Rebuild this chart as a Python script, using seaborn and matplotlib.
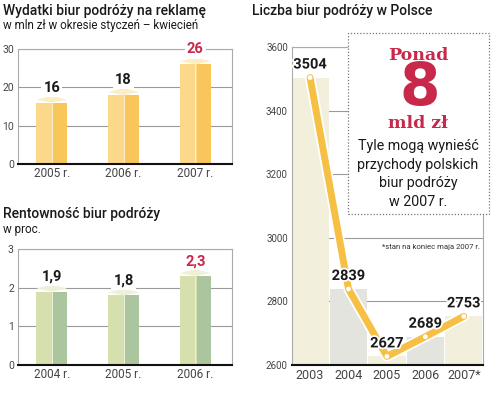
import numpy as np
import pandas as pd
import seaborn as sns
import matplotlib
matplotlib.use("Agg")
import matplotlib.pyplot as plt
import matplotlib.patheffects as pe
from matplotlib.patches import Rectangle

# ---- data ----
ad_years = ["2005 r.", "2006 r.", "2007 r."]
ad_values = [16, 18, 26]
ad_labels = ["16", "18", "26"]

prof_years = ["2004 r.", "2005 r.", "2006 r."]
prof_values = [1.9, 1.8, 2.3]
prof_labels = ["1,9", "1,8", "2,3"]

agency_years = ["2003", "2004", "2005", "2006", "2007*"]
agency_counts = [3504, 2839, 2627, 2689, 2753]

sns.set_theme(style="white")
plt.rcParams['font.family'] = ['Roboto', 'DejaVu Sans']
plt.rcParams['mathtext.fontset'] = 'dejavusans'

RED = "#c8284a"
GRID = "#9a9a9a"
TICK = "#444444"

fig = plt.figure(figsize=(5.0, 3.98), dpi=100)
W, H = 500, 398

def axes_px(l, t, r, b):
    return fig.add_axes([l / W, 1 - b / H, (r - l) / W, (b - t) / H])


def bar_panel(ax, cats, vals, labels, ymax, ticks, light, dark, top, ytop_px):
    df = pd.DataFrame({"cat": cats, "val": vals})
    width = 0.43
    sns.barplot(data=df, x="cat", y="val", ax=ax, color=light, width=width,
                saturation=1, linewidth=0, zorder=3)
    ax.set_xlim(-0.47, 2.51)
    ax.set_ylim(0, ymax)
    upp = ymax / ytop_px
    for i, v in enumerate(vals):
        ax.add_patch(Rectangle((i + width * 0.04, 0), width * 0.46, v,
                               facecolor=dark, edgecolor="none", zorder=4))
        xs = [i - width / 2, i, i + width / 2, i]
        ys = [v + 3 * upp, v, v + 3 * upp, v + 7 * upp]
        ax.fill(xs, ys, color=top, zorder=5, lw=0)
        ax.plot([i, i], [0, v], color="white", lw=0.5, alpha=0.8, zorder=6)
        col = RED if i == len(vals) - 1 else "#1a1a1a"
        ax.annotate(labels[i], (i, v), xytext=(0, 15), textcoords="offset pixels",
                    ha="center", va="center", fontsize=10.5, fontweight="bold",
                    color=col, zorder=7,
                    bbox=dict(boxstyle="square,pad=0.15", fc="white", ec="none"))
    ax.set_yticks(ticks)
    ax.grid(axis="y", color=GRID, lw=0.8, zorder=0)
    ax.set_xlabel("")
    ax.set_ylabel("")
    for s in ["left", "right", "top"]:
        ax.spines[s].set_visible(True)
        ax.spines[s].set_color("#aaaaaa")
        ax.spines[s].set_linewidth(0.8)
    ax.spines["bottom"].set_color("#111111")
    ax.spines["bottom"].set_linewidth(1.5)
    ax.spines["bottom"].set_zorder(8)
    ax.tick_params(axis="y", length=0, pad=3, labelsize=7.5, labelcolor=TICK)
    ax.tick_params(axis="x", length=0, pad=2, labelsize=8.5, labelcolor=TICK)
    ax.set_facecolor("white")


# ---- top-left panel ----
ax1 = axes_px(18, 49, 232, 164)
bar_panel(ax1, ad_years, ad_values, ad_labels, 30, [0, 10, 20, 30],
          "#fcd98a", "#f8c65a", "#fdeec0", 115)
fig.text(3 / W, 1 - 11 / H, "Wydatki biur podróży na reklamę", fontsize=10,
         fontweight="medium", color="#1a1a1a", va="center", ha="left")
fig.text(3 / W, 1 - 26 / H, "w mln zł w okresie styczeń – kwiecień", fontsize=8.4,
         color="#1a1a1a", va="center", ha="left")

# ---- bottom-left panel ----
ax2 = axes_px(18, 249, 232, 365)
bar_panel(ax2, prof_years, prof_values, prof_labels, 3, [0, 1, 2, 3],
          "#d6dfae", "#abc69e", "#eef1d8", 116)
fig.text(3 / W, 1 - 214 / H, "Rentowność biur podróży", fontsize=10,
         fontweight="medium", color="#1a1a1a", va="center", ha="left")
fig.text(3 / W, 1 - 229 / H, "w proc.", fontsize=8.4,
         color="#1a1a1a", va="center", ha="left")

# ---- right panel ----
ax3 = axes_px(292, 47, 483, 365)
df3 = pd.DataFrame({"year": agency_years, "count": agency_counts})
col_colors = ["#f2f0dc", "#e4e4df", "#f2f0dc", "#e4e4df", "#f2f0dc"]
sns.barplot(data=df3, x="year", y="count", hue="year", palette=col_colors,
            legend=False, ax=ax3, width=0.97, saturation=1, linewidth=0,
            zorder=1)
ax3.set_ylim(2600, 3600)
ax3.set_xlim(-0.47, 4.5)
ax3.set_yticks([2600, 2800, 3000, 3200, 3400, 3600])
ax3.grid(axis="y", color=GRID, lw=0.8, zorder=0)
ax3.set_axisbelow(True)
sns.lineplot(data=df3, x="year", y="count", ax=ax3, color="#f6c044", lw=5,
             sort=False, zorder=4,
             path_effects=[pe.Stroke(linewidth=7.5, foreground="white"), pe.Normal()])
sns.scatterplot(data=df3, x="year", y="count", ax=ax3, color="white", s=12,
                edgecolor="none", zorder=5)
for i, v in enumerate(agency_counts):
    ax3.annotate(str(v), (i, v), xytext=(0, 13), textcoords="offset pixels",
                 ha="center", va="center", fontsize=10.5, fontweight="bold",
                 color="#1a1a1a", zorder=7,
                 path_effects=[pe.Stroke(linewidth=2.5, foreground="white"), pe.Normal()])
ax3.set_xlabel("")
ax3.set_ylabel("")
for s in ["left", "right", "top"]:
    ax3.spines[s].set_visible(True)
    ax3.spines[s].set_color("#aaaaaa")
    ax3.spines[s].set_linewidth(0.8)
ax3.spines["bottom"].set_color("#111111")
ax3.spines["bottom"].set_linewidth(1.5)
ax3.tick_params(axis="y", length=0, pad=3, labelsize=7, labelcolor=TICK)
ax3.tick_params(axis="x", length=0, pad=3, labelsize=9, labelcolor=TICK)
ax3.text(0.985, 1 - (247 - 47) / 318, "*stan na koniec maja 2007 r.", transform=ax3.transAxes,
         ha="right", va="center", fontsize=5.6, color="#333333", zorder=8)

fig.text(252 / W, 1 - 11 / H, "Liczba biur podróży w Polsce", fontsize=10,
         fontweight="medium", color="#1a1a1a", va="center", ha="left")

# ---- callout box ----
fig.patches.append(Rectangle((348 / W, 1 - 214 / H), (489 - 348) / W, (214 - 33) / H,
                             transform=fig.transFigure, facecolor="white",
                             edgecolor="#777777", linestyle=(0, (1, 1.5)), lw=0.9,
                             zorder=10))
cx = 418 / W
fig.text(cx, 1 - 56 / H, "Ponad", fontsize=12.5, fontweight="heavy", family="DejaVu Serif",
         color=RED, ha="center", va="center", zorder=11)
fig.text(cx, 1 - 90 / H, r"$\mathbf{8}$", fontsize=42,
         color=RED, ha="center", va="center", zorder=11)
fig.text(cx, 1 - 124 / H, "mld zł", fontsize=12.5, fontweight="heavy", family="DejaVu Serif",
         color=RED, ha="center", va="center", zorder=11)
for k, line in enumerate(["Tyle mogą wynieść", "przychody polskich", "biur podróży", "w 2007 r."]):
    fig.text(cx, 1 - (146 + 18.5 * k) / H, line, fontsize=10.3, color="#1a1a1a",
             ha="center", va="center", zorder=11)

fig.savefig("out.png", dpi=100)
